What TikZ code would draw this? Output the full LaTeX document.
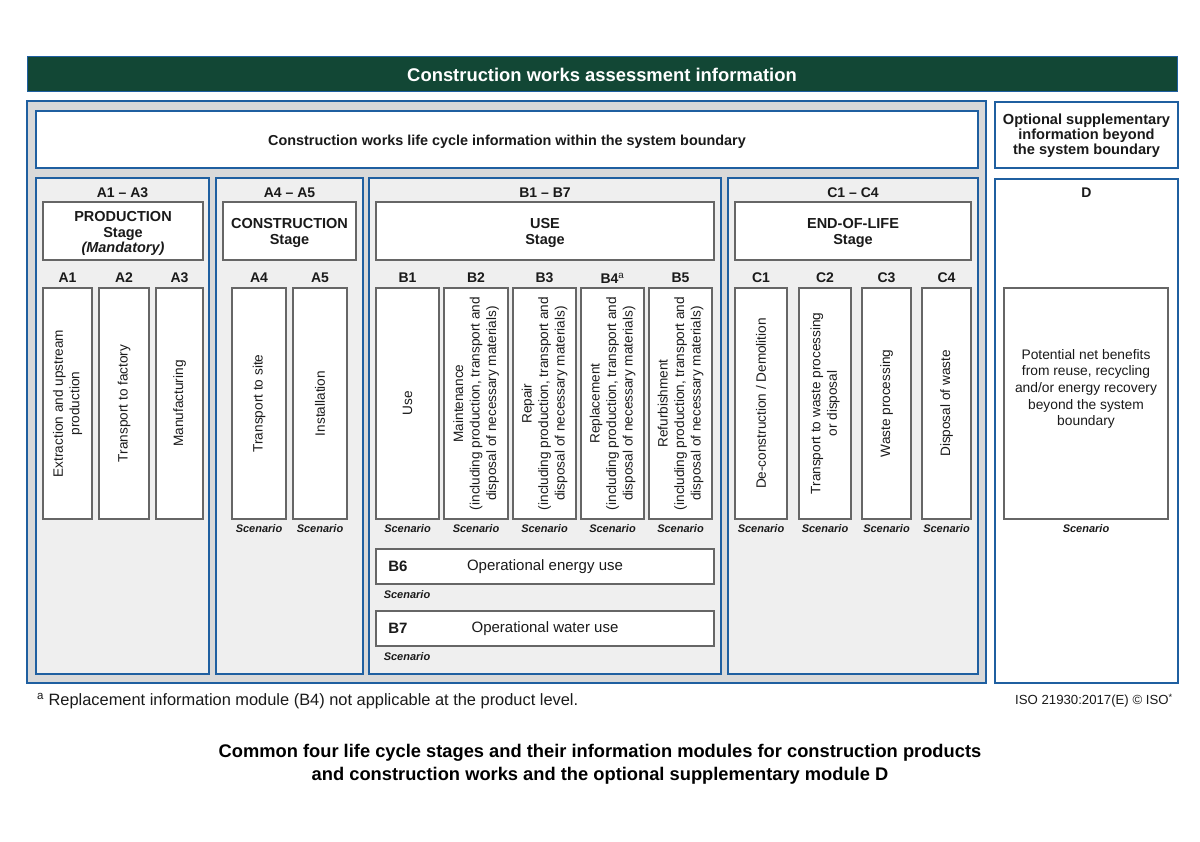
\documentclass[tikz,border=0pt]{standalone}
\usepackage{fontspec}
\setmainfont{Liberation Sans}
\definecolor{hdrgreen}{HTML}{124735}
\definecolor{bdrblue}{HTML}{1F5FA0}
\definecolor{outgray}{HTML}{D9D9D9}
\definecolor{grpgray}{HTML}{EFEFEF}
\definecolor{modgray}{HTML}{666666}
\definecolor{txt}{HTML}{1A1A1A}
\newcommand{\rbox}[6]{%
  \node[#6, anchor=north west, minimum width={(#4-#2)*1pt}, minimum height={(#5-#3)*1pt}] (#1) at (#2,#3) {};}
\tikzset{
  hdr/.style={draw=bdrblue, fill=hdrgreen, line width=1pt, inner sep=0, outer sep=0},
  outer/.style={draw=bdrblue, fill=outgray, line width=1.4pt, inner sep=0, outer sep=0},
  whitebox/.style={draw=bdrblue, fill=white, line width=1.4pt, inner sep=0, outer sep=0},
  grp/.style={draw=bdrblue, fill=grpgray, line width=1.6pt, inner sep=0, outer sep=0},
  mod/.style={draw=modgray, fill=white, line width=1.1pt, inner sep=0, outer sep=0},
  lbl/.style={font=\bfseries\fontsize{14}{15.5}\selectfont, text=txt, inner sep=0, align=center},
  stg/.style={font=\bfseries\fontsize{14.5}{15.7}\selectfont, text=txt, inner sep=0, align=center},
  body/.style={font=\fontsize{13.6}{16.5}\selectfont, text=txt, align=center, rotate=90, inner sep=0},
  plain/.style={font=\fontsize{13.8}{16.7}\selectfont, text=txt, align=center, inner sep=0},
  scen/.style={font=\bfseries\itshape\fontsize{11}{12}\selectfont, text=txt, inner sep=0},
}
\begin{document}
\begin{tikzpicture}[x=1pt,y=-1pt]
\useasboundingbox[fill=white] (0,0) rectangle (1200,842);
% header
\rbox{header}{27}{57}{1177}{92}{hdr}
\node[font=\bfseries\fontsize{18.4}{20}\selectfont, text=white, inner sep=0] (htxt) at (602,75) {Construction works assessment information};
% outer gray area
\rbox{outerbox}{27}{101}{986}{683}{outer}
\rbox{topbox}{36}{111}{978}{168}{whitebox}
\node[lbl, font=\bfseries\fontsize{14.4}{16}\selectfont] (toptxt) at (507,141.5) {Construction works life cycle information within the system boundary};
\rbox{optbox}{995}{102}{1178}{168}{whitebox}
\node[lbl, font=\bfseries\fontsize{14.6}{15}\selectfont] (opttxt) at (1086.5,136) {Optional supplementary\\information beyond\\the system boundary};
% groups
\rbox{gA}{36}{178}{209}{674}{grp}
\rbox{gA2}{216}{178}{363}{674}{grp}
\rbox{gB}{369}{178}{721}{674}{grp}
\rbox{gC}{728}{178}{978}{674}{grp}
\rbox{gD}{995}{179}{1178}{683}{whitebox}
\node[lbl] (lA) at (122.5,193) {A1 -- A3};
\node[lbl] (lA2) at (289.5,193) {A4 -- A5};
\node[lbl] (lB) at (545,193) {B1 -- B7};
\node[lbl] (lC) at (853,193) {C1 -- C4};
\node[lbl] (lD) at (1086.5,193) {D};
% stage boxes
\rbox{sA}{43}{202}{203}{260}{mod}
\rbox{sA2}{223}{202}{356}{260}{mod}
\rbox{sB}{376}{202}{714}{260}{mod}
\rbox{sC}{735}{202}{971}{260}{mod}
\node[stg] (tsA) at (123,233.5) {PRODUCTION\\Stage\\\textit{(Mandatory)}};
\node[stg] (tsA2) at (289.5,233) {CONSTRUCTION\\Stage};
\node[stg] (tsB) at (545,233) {USE\\Stage};
\node[stg] (tsC) at (853,233) {END-OF-LIFE\\Stage};
% modules
\foreach \n/\xa/\xb/\lab in {A1/43/92/A1, A2/99/149/A2, A3/156/203/A3, A4/232/286/A4, A5/293/347/A5,
  B1/376/439/B1, B2/444/508/B2, B3/513/576/B3, B4/581/644/B4\textsuperscript{\mdseries a}, B5/649/712/B5,
  C1/735/787/C1, C2/799/851/C2, C3/862/911/C3, C4/922/971/C4}{
  \rbox{m\n}{\xa}{288}{\xb}{519}{mod}
  \node[lbl] (l\n) at ({(\xa+\xb)/2},278) {\lab};
}
\node[body] (tA1) at (mA1) {Extraction and upstream\\production};
\node[body] (tA2) at (mA2) {Transport to factory};
\node[body] (tA3) at (mA3) {Manufacturing};
\node[body] (tA4) at (mA4) {Transport to site};
\node[body] (tA5) at (mA5) {Installation};
\node[body] (tB1) at (mB1) {Use};
\node[body] (tB2) at (mB2) {Maintenance\\(including production, transport and\\disposal of necessary materials)};
\node[body] (tB3) at (mB3) {Repair\\(including production, transport and\\disposal of necessary materials)};
\node[body] (tB4) at (mB4) {Replacement\\(including production, transport and\\disposal of necessary materials)};
\node[body] (tB5) at (mB5) {Refurbishment\\(including production, transport and\\disposal of necessary materials)};
\node[body] (tC1) at (mC1) {De-construction / Demolition};
\node[body] (tC2) at (mC2) {Transport to waste processing\\or disposal};
\node[body] (tC3) at (mC3) {Waste processing};
\node[body] (tC4) at (mC4) {Disposal of waste};
% scenarios
\foreach \n in {A4,A5,B1,B2,B3,B4,B5,C1,C2,C3,C4}{
  \node[scen] (s\n) at (m\n.south |- 0,529) {Scenario};
}
% D
\rbox{mD}{1004}{288}{1168}{519}{mod}
\node[plain] (tD) at (1086,389) {Potential net benefits\\from reuse, recycling\\and/or energy recovery\\beyond the system\\boundary};
\node[scen] (sD) at (1086,529) {Scenario};
% B6 B7
\rbox{mB6}{376}{549}{714}{584}{mod}
\rbox{mB7}{376}{611}{714}{646}{mod}
\node[lbl, font=\bfseries\fontsize{15}{16}\selectfont] (lB6) at (398,566.5) {B6};
\node[plain, font=\fontsize{15}{16}\selectfont] (tB6) at (545,566.5) {Operational energy use};
\node[lbl, font=\bfseries\fontsize{15}{16}\selectfont] (lB7) at (398,628.5) {B7};
\node[plain, font=\fontsize{15}{16}\selectfont] (tB7) at (545,628.5) {Operational water use};
\node[scen] (sB6) at (407,595) {Scenario};
\node[scen] (sB7) at (407,657) {Scenario};
% footnote
\node[anchor=west, font=\fontsize{16.4}{18}\selectfont, text=txt, inner sep=0] (fn) at (37,701) {\textsuperscript{a} Replacement information module (B4) not applicable at the product level.};
\node[anchor=east, font=\fontsize{13.2}{15}\selectfont, text=txt, inner sep=0] (iso) at (1173,701) {ISO 21930:2017(E) © ISO\textsuperscript{*}};
% caption
\node[font=\bfseries\fontsize{18.3}{23}\selectfont, text=black, align=center, inner sep=0] (cap) at (600,764.5) {Common four life cycle stages and their information modules for construction products\\and construction works and the optional supplementary module D};
\end{tikzpicture}
\end{document}
